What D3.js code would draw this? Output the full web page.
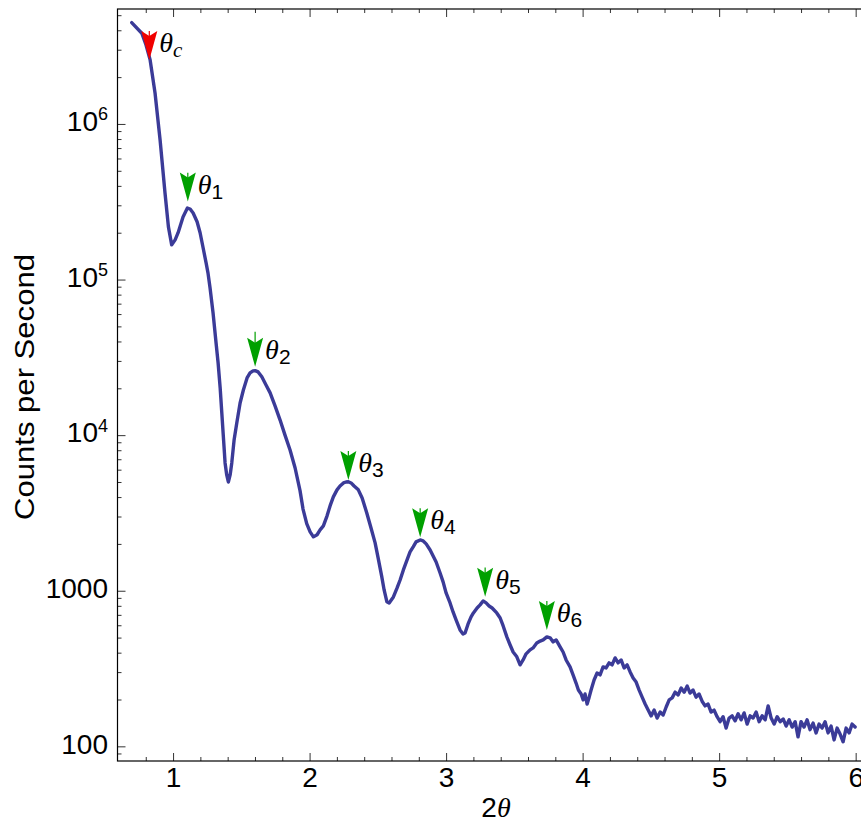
<!DOCTYPE html>
<html><head><meta charset="utf-8">
<script src="https://cdn.jsdelivr.net/npm/d3@7"></script>
<style>body{margin:0;background:#fff}svg{display:block}</style>
</head><body><svg id="chart" width="861" height="827"></svg>
<script>
// ---- data ----
const twoTheta = [0.697,0.771,0.802,0.832,0.868,0.905,0.941,0.966,0.990,1.015,1.037,1.073,1.105,1.125,1.147,1.176,1.198,1.220,1.242,1.256,1.271,1.293,1.315,1.330,1.345,1.357,1.370,1.381,1.393,1.405,1.418,1.430,1.447,1.467,1.491,1.515,1.542,1.564,1.586,1.601,1.623,1.650,1.681,1.711,1.747,1.784,1.820,1.857,1.894,1.930,1.952,1.979,
2.004,2.028,2.055,2.077,2.101,2.128,2.150,2.174,2.201,2.223,2.248,2.267,2.284,2.304,2.326,2.357,2.385,2.419,2.450,2.480,2.502,2.529,2.546,2.566,2.583,2.614,2.641,2.663,2.687,2.714,2.736,2.760,2.780,2.810,2.832,2.854,2.883,2.905,2.927,2.956,2.978,3.000,3.029,3.051,3.073,3.102,3.124,3.139,3.161,3.183,3.200,3.227,3.249,3.271,3.293,3.315,3.337,3.371,3.396,3.418,3.445,3.469,3.491,3.518,3.542,3.564,3.586,3.615,3.637,3.664,3.689,3.711,3.738,3.762,3.784,3.806,3.835,3.857,3.879,3.908,3.930,3.952,3.969,3.989,4.004,4.018,4.033,4.048,4.062,4.084,4.106,4.128,4.150,4.172,4.194,4.216,4.238,4.260,4.282,4.304,4.326,4.348,4.370,4.392,4.414,4.436,4.458,4.480,4.502,4.524,4.546,4.568,4.590,4.612,4.634,4.656,4.678,4.700,4.722,4.744,4.766,4.787,4.809,4.831,4.853,4.875,4.897,4.919,4.941,4.963,4.985,5.007,5.029,5.051,5.073,5.095,5.117,5.139,5.161,5.183,5.205,5.227,5.249,5.271,5.293,5.315,5.337,5.359,5.381,5.403,5.425,5.447,5.469,5.491,5.513,5.535,5.557,5.578,5.600,5.622,5.644,5.666,5.688,5.710,5.732,5.754,5.776,5.798,5.820,5.842,5.864,5.886,5.908,5.930,5.952,5.974,5.996];
const counts = [4.48e6,3.83e6,3.22e6,2.58e6,1.58e6,7.89e5,3.60e5,2.18e5,1.67e5,1.80e5,2.00e5,2.52e5,2.88e5,2.84e5,2.68e5,2.35e5,2.00e5,1.60e5,1.28e5,1.10e5,8.83e4,6.10e4,3.91e4,2.91e4,2.01e4,1.39e4,9310,6630,5550,5000,5550,6630,9300,12000,16100,19500,23300,25100,25900,26000,25500,23700,21000,18700,15400,12500,10000,8030,6150,4400,3350,2700,
2390,2220,2290,2460,2610,3030,3510,4010,4450,4710,4930,5000,5020,4930,4710,4450,3950,3160,2530,2030,1625,1227,1012,851,835,912,1042,1172,1361,1578,1775,1920,2060,2120,2090,2000,1829,1674,1531,1301,1140,968,835,731,649,560,527,535,612,679,720,775,811,860,835,798,775,720,668,594,505,448,404,376,334,359,393,417,429,461,475,483,505,498,469,483,436,404,359,324,288,255,230,217,199,217,187,207,230,267,296,288,324,319,344,334,370,344,359,319,334,301,275,259,230,207,187,171,157,171,152,166,159,179,199,205,223,214,237,223,244,220,230,207,217,195,182,187,166,171,155,144,155,131,152,157,146,162,148,164,139,157,152,166,144,157,148,182,152,139,155,144,150,135,148,133,144,115,144,133,148,128,141,122,139,131,144,122,135,110,131,120,107,131,122,139,133];

const xTickValues = [1,2,3,4,5,6];
const yTickValues = [100,1000,1e4,1e5,1e6];
const yTickBase = ["100","1000","10","10","10"];
const yTickExp = ["","","4","5","6"];

const markerSub = ["c","1","2","3","4","5","6"];
const markerTheta = [0.826,1.108,1.601,2.284,2.810,3.286,3.738];
const markerCounts = [2.58e6,3.17e5,2.75e4,5150,2210,916,560];
const markerFrom = [3.96e6,4.86e5,4.62e4,7900,3390,1410,859];

// ---- layout ----
const svg = d3.select("#chart");
const mLeft = 117.5, mRight = 874.5, mTop = 9, mBottom = 761;
const x = d3.scaleLinear().domain([0.593, 6.138]).range([mLeft, mRight]);
const y = d3.scaleLog().domain([80.5, 5.48e6]).range([mBottom, mTop]);

const sans = "'Liberation Sans', Arial, Helvetica, sans-serif";
const serif = "'Liberation Serif', 'Times New Roman', serif";
const tickColor = "#333";

const xMinor = d3.range(4, 31).map(i => i / 5).filter(v => Math.abs(v - Math.round(v)) > 1e-6);
const yMinor = [];
for (let k = 1; k <= 6; k++) for (let m = 2; m <= 9; m++) {
  const v = m * Math.pow(10, k);
  if (v > y.domain()[0] && v < y.domain()[1]) yMinor.push(v);
}

function styleAxis(g) {
  g.select(".domain").remove();
  g.selectAll(".tick line").attr("stroke", tickColor).attr("stroke-width", 1);
  g.attr("font-family", sans).attr("font-size", 28);
  g.selectAll(".tick text").attr("fill", "#000");
}

// bottom axis
svg.append("g").attr("transform", `translate(0,${mBottom})`)
  .call(d3.axisBottom(x).tickValues(xTickValues).tickSize(-8).tickPadding(6).tickFormat(d3.format("d")))
  .call(styleAxis);
svg.append("g").attr("transform", `translate(0,${mBottom})`)
  .call(d3.axisBottom(x).tickValues(xMinor).tickSize(-4).tickFormat(""))
  .call(styleAxis);
// top axis
svg.append("g").attr("transform", `translate(0,${mTop})`)
  .call(d3.axisTop(x).tickValues(xTickValues).tickSize(-8).tickFormat(""))
  .call(styleAxis);
svg.append("g").attr("transform", `translate(0,${mTop})`)
  .call(d3.axisTop(x).tickValues(xMinor).tickSize(-4).tickFormat(""))
  .call(styleAxis);
// left axis
const gL = svg.append("g").attr("transform", `translate(${mLeft},0)`)
  .call(d3.axisLeft(y).tickValues(yTickValues).tickSize(-8).tickPadding(9.5).tickFormat(""))
  .call(styleAxis);
gL.selectAll(".tick text").each(function(d, i) {
  const t = d3.select(this).attr("dy", "0.24em");
  t.append("tspan").text(yTickBase[i]);
  if (yTickExp[i]) t.append("tspan").attr("font-size", 18).attr("dy", "-0.6em").text(yTickExp[i]);
});
svg.append("g").attr("transform", `translate(${mLeft},0)`)
  .call(d3.axisLeft(y).tickValues(yMinor).tickSize(-4).tickFormat(""))
  .call(styleAxis);

// frame
svg.append("rect").attr("x", mLeft).attr("y", mTop).attr("width", mRight - mLeft).attr("height", mBottom - mTop)
  .attr("fill", "none").attr("stroke", "#000").attr("stroke-width", 1.2);

// clip
svg.append("clipPath").attr("id", "clip").append("rect")
  .attr("x", mLeft).attr("y", mTop).attr("width", mRight - mLeft).attr("height", mBottom - mTop);

// data line
const pts = twoTheta.map((t, i) => [t, counts[i]]);
svg.append("path").datum(pts).attr("clip-path", "url(#clip)")
  .attr("fill", "none").attr("stroke", "#3b3b98").attr("stroke-width", 3.4)
  .attr("stroke-linejoin", "round").attr("stroke-linecap", "round")
  .attr("d", d3.line().x(d => x(d[0])).y(d => y(d[1])));

// markers
const markers = markerSub.map((s, i) => ({ s, t: markerTheta[i], c: markerCounts[i], f: markerFrom[i] }));
const mg = svg.selectAll("g.marker").data(markers).join("g").attr("class", "marker")
  .attr("transform", d => `translate(${x(d.t)},${y(d.c)})`);
mg.append("line").attr("x1", 0).attr("x2", 0).attr("y1", d => y(d.f) - y(d.c)).attr("y2", -10)
  .attr("stroke", d => d.s === "c" ? "#f00000" : "#00a000").attr("stroke-width", 1.2);
mg.append("path").attr("d", "M0,0L-8,-29L0,-24L8,-29Z")
  .attr("fill", d => d.s === "c" ? "#f00000" : "#00a000");
const lab = mg.append("text").attr("x", 10).attr("y", -8).attr("font-size", 28);
lab.append("tspan").attr("font-family", serif).attr("font-style", "italic").text("θ");
lab.append("tspan").attr("dy", 5).attr("font-size", 21)
  .attr("font-family", d => d.s === "c" ? serif : sans)
  .attr("font-style", d => d.s === "c" ? "italic" : "normal")
  .text(d => d.s);

// axis titles
svg.append("text").attr("transform", "translate(34,387) rotate(-90)")
  .attr("text-anchor", "middle").attr("font-family", sans).attr("font-size", 28)
  .attr("textLength", 266).attr("lengthAdjust", "spacingAndGlyphs")
  .text("Counts per Second");
const xt = svg.append("text").attr("x", 496).attr("y", 817).attr("text-anchor", "middle").attr("font-size", 28);
xt.append("tspan").attr("font-family", sans).text("2");
xt.append("tspan").attr("font-family", serif).attr("font-style", "italic").text("θ");
</script></body></html>
